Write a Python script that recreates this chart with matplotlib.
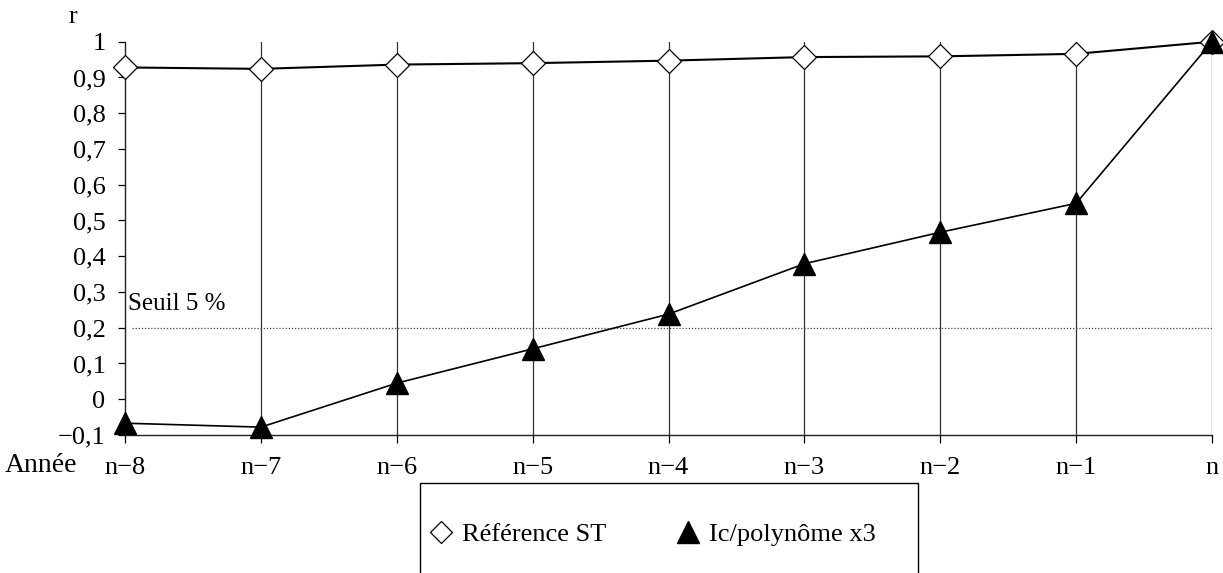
import numpy as np
import matplotlib.pyplot as plt
from matplotlib.lines import Line2D
from matplotlib.patches import Rectangle

# data
annees = ['n−8', 'n−7', 'n−6', 'n−5', 'n−4', 'n−3', 'n−2', 'n−1', 'n']
ref_st = [0.928, 0.924, 0.936, 0.940, 0.947, 0.957, 0.959, 0.966, 1.0]
ic_poly = [-0.067, -0.078, 0.045, 0.141, 0.238, 0.379, 0.467, 0.548, 1.0]
seuil = 0.2
y_ticks = [-0.1, 0, 0.1, 0.2, 0.3, 0.4, 0.5, 0.6, 0.7, 0.8, 0.9, 1]
y_labels = ['−0,1', '0', '0,1', '0,2', '0,3', '0,4', '0,5', '0,6', '0,7', '0,8', '0,9', '1']

plt.rcParams['font.family'] = 'Liberation Serif'
fsize = 19

fig = plt.figure(figsize=(12.23, 5.73), dpi=100)
ax = fig.add_axes([125 / 1223, 1 - 435 / 573, (1212 - 125) / 1223, (435 - 41.7) / 573])

x = np.arange(len(annees))

#vertical grid lines at every year
for xi in x[1:]:
    ax.axvline(xi, color='#333333', linewidth=0.9, zorder=1)

#threshold line
ax.plot([x[0] + 0.05, x[-1]], [seuil, seuil], color='#444444', linewidth=0.9,
        linestyle=(0, (1, 1.5)), zorder=1)
ax.text(x[0] + 0.02, 0.265, 'Seuil 5 %', fontsize=fsize - 1, ha='left', va='center')

ax.plot(x, ref_st, color='black', linewidth=1.5, marker='D', markersize=12.5,
        markerfacecolor='white', markeredgecolor='black', markeredgewidth=0.9,
        zorder=3, clip_on=False)
ax.plot(x, ic_poly, color='black', linewidth=1.2, marker='^', markersize=16,
        markerfacecolor='black', markeredgecolor='black', zorder=4, clip_on=False)

ax.set_xlim(x[0], x[-1])
ax.set_ylim(-0.1, 1.0)
ax.set_yticks(y_ticks)
ax.set_yticklabels(y_labels, fontsize=fsize)
ax.set_xticks(x)
ax.set_xticklabels(annees, fontsize=fsize)
ax.tick_params(axis='x', direction='out', length=6, width=0.9, pad=10)
ax.tick_params(axis='y', direction='out', length=5, width=0.9, pad=9)

for s in ['top', 'right']:
    ax.spines[s].set_visible(False)
for s in ['left', 'bottom']:
    ax.spines[s].set_linewidth(1.0)
    ax.spines[s].set_color('#222222')

fig.text(73 / 1223, 1 - 17 / 573, 'r', fontsize=fsize, ha='center', va='center')
fig.text(5 / 1223, 1 - 466 / 573, 'Année', fontsize=fsize + 1, ha='left', va='center')

#legend box, open at the bottom of the picture
box = Rectangle((420 / 1223, -0.05), (918 - 420) / 1223, (573 - 483) / 573 + 0.05,
                transform=fig.transFigure, fill=False, edgecolor='black', linewidth=1.0)
fig.add_artist(box)

handles = [
    Line2D([], [], linestyle='none', marker='D', markersize=11, markerfacecolor='white',
           markeredgecolor='black', markeredgewidth=0.9),
    Line2D([], [], linestyle='none', marker='^', markersize=16, markerfacecolor='black',
           markeredgecolor='black'),
]
leg = fig.legend(handles, ['Référence ST', 'Ic/polynôme x3'], loc='center left',
                 bbox_to_anchor=(430 / 1223, 1 - 534 / 573), ncol=2, fontsize=fsize,
                 frameon=False, borderpad=0, handlelength=0.8,
                 handletextpad=0.4, columnspacing=2.7, borderaxespad=0)

fig.savefig('out.png', dpi=100)
